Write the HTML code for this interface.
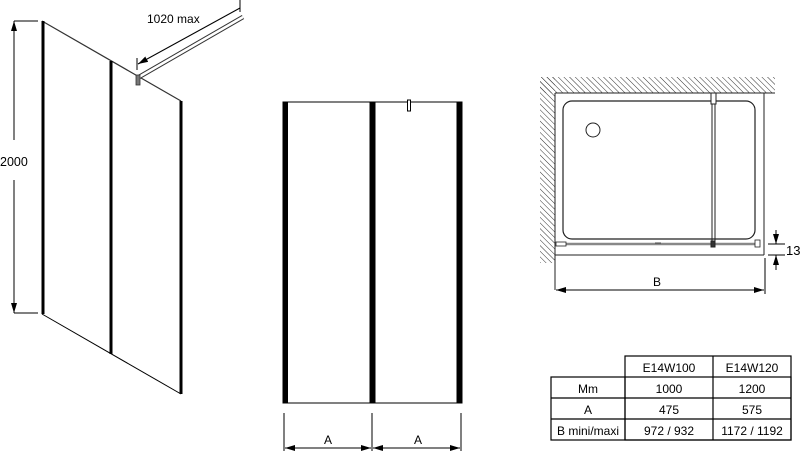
<!DOCTYPE html>
<html><head><meta charset="utf-8"><style>
body{margin:0;background:#fff;}
svg{display:block;font-family:"Liberation Sans",sans-serif;}
</style></head><body>
<svg width="800" height="451" viewBox="0 0 800 451" xmlns="http://www.w3.org/2000/svg">
<defs>
<pattern id="h" width="4" height="4" patternUnits="userSpaceOnUse" patternTransform="rotate(-45)">
<line x1="0" y1="0" x2="0" y2="4" stroke="#333" stroke-width="1"/>
</pattern>
<marker id="a" viewBox="0 0 10 6" refX="10" refY="3" markerWidth="10" markerHeight="6" orient="auto-start-reverse" markerUnits="userSpaceOnUse">
<path d="M0,0 L10,3 L0,6 Z" fill="#000"/></marker>
</defs>
<!-- Left isometric -->
<g stroke="#000">
<line x1="42" y1="21" x2="181" y2="101" stroke-width="1.2" stroke="#333"/>
<line x1="42" y1="314" x2="181" y2="394" stroke-width="1"/>
<line x1="43" y1="21" x2="43" y2="314" stroke-width="3"/>
<line x1="111" y1="61" x2="111" y2="354" stroke-width="3"/>
<line x1="181" y1="101" x2="181" y2="394" stroke-width="3"/>
<line x1="14" y1="21" x2="38" y2="21" stroke-width="1"/>
<line x1="14" y1="313" x2="38" y2="313" stroke-width="1"/>
<line x1="14" y1="21" x2="14" y2="140" stroke-width="1" marker-start="url(#a)"/>
<line x1="14" y1="180" x2="14" y2="313" stroke-width="1" marker-end="url(#a)"/>
<!-- bar -->
<line x1="139" y1="77" x2="243" y2="17" stroke-width="4.5" stroke="#333"/>
<line x1="139" y1="77" x2="243" y2="17" stroke-width="2.5" stroke="#fff"/>
<rect x="136" y="75" width="4" height="10" fill="#777" stroke="#333" stroke-width="0.8"/>
<line x1="138" y1="64" x2="240" y2="8" stroke-width="1" marker-start="url(#a)"/>
<line x1="137" y1="58" x2="137" y2="70" stroke-width="1"/>
<line x1="240" y1="0" x2="240" y2="12" stroke-width="1"/>
</g>
<text x="0" y="166" font-size="12.5">2000</text>
<text x="147" y="23" font-size="12">1020 max</text>
<!-- Front view -->
<g stroke="#000">
<line x1="283" y1="102" x2="462" y2="102" stroke-width="1"/>
<line x1="283" y1="403" x2="462" y2="403" stroke-width="1"/>
<rect x="283" y="102" width="4.5" height="301" fill="#000"/>
<rect x="370" y="102" width="5" height="301" fill="#000"/>
<rect x="457" y="102" width="5" height="301" fill="#000"/>
<rect x="407.5" y="100" width="3" height="11" fill="#fff" stroke-width="1"/>
<line x1="284" y1="413" x2="284" y2="451" stroke-width="1"/>
<line x1="372" y1="413" x2="372" y2="451" stroke-width="1"/>
<line x1="461" y1="413" x2="461" y2="451" stroke-width="1"/>
<line x1="285" y1="448" x2="371" y2="448" stroke-width="1" marker-start="url(#a)" marker-end="url(#a)"/>
<line x1="373" y1="448" x2="460" y2="448" stroke-width="1" marker-start="url(#a)" marker-end="url(#a)"/>
</g>
<text x="324" y="444" font-size="12">A</text>
<text x="414" y="444" font-size="12">A</text>
<!-- Plan -->
<rect x="540" y="77" width="235" height="16" fill="url(#h)"/>
<rect x="540" y="77" width="15" height="186" fill="url(#h)"/>
<g stroke="#222" fill="none">
<line x1="555" y1="93" x2="775" y2="93" stroke-width="1"/>
<line x1="555" y1="93" x2="555" y2="290" stroke-width="1"/>
<line x1="764" y1="93" x2="764" y2="255" stroke-width="1"/>
<line x1="555" y1="255" x2="764" y2="255" stroke-width="1"/>
<rect x="563" y="101" width="192" height="138" rx="9" stroke-width="1.2"/>
<circle cx="593" cy="130" r="7" stroke-width="1"/>
<line x1="712" y1="93" x2="712" y2="245" stroke-width="1"/>
<line x1="715" y1="93" x2="715" y2="245" stroke-width="1"/>
<rect x="711" y="93" width="5" height="11" fill="#fff"/>
<line x1="556" y1="244" x2="758" y2="244" stroke-width="2.5" stroke="#888"/>
<rect x="556" y="242" width="10" height="4" fill="#fff" stroke-width="0.8"/>
<rect x="755" y="240" width="5" height="7" fill="#fff" stroke-width="0.8"/>
<rect x="711" y="241" width="4" height="6" fill="#333"/>
<line x1="655" y1="243" x2="661" y2="243" stroke-width="0.8"/>
<line x1="765" y1="258" x2="765" y2="294" stroke-width="1" stroke="#000"/>
<line x1="556" y1="290" x2="764" y2="290" stroke-width="1" stroke="#000" marker-start="url(#a)" marker-end="url(#a)"/>
<line x1="768" y1="244" x2="785" y2="244" stroke-width="1" stroke="#000"/>
<line x1="768" y1="255" x2="785" y2="255" stroke-width="1" stroke="#000"/>
<line x1="776" y1="230" x2="776" y2="244" stroke-width="1" stroke="#000" marker-end="url(#a)"/>
<line x1="776" y1="270" x2="776" y2="255" stroke-width="1" stroke="#000" marker-end="url(#a)"/>
</g>
<text x="653" y="286" font-size="12">B</text>
<text x="786" y="255" font-size="13">13</text>
<!-- Table -->
<g stroke="#000" stroke-width="1.2" fill="none">
<rect x="625" y="356" width="166" height="84"/>
<rect x="551" y="377" width="240" height="63"/>
<line x1="713" y1="356" x2="713" y2="440"/>
<line x1="625" y1="377" x2="625" y2="440"/>
<line x1="551" y1="398" x2="791" y2="398"/>
<line x1="551" y1="419" x2="791" y2="419"/>
</g>
<g font-size="12" text-anchor="middle">
<text x="669" y="372">E14W100</text><text x="752" y="372">E14W120</text>
<text x="588" y="393">Mm</text><text x="669" y="393">1000</text><text x="752" y="393">1200</text>
<text x="588" y="414">A</text><text x="669" y="414">475</text><text x="752" y="414">575</text>
<text x="588" y="435">B mini/maxi</text><text x="669" y="435">972 / 932</text><text x="752" y="435">1172 / 1192</text>
</g>
</svg>
</body></html>
